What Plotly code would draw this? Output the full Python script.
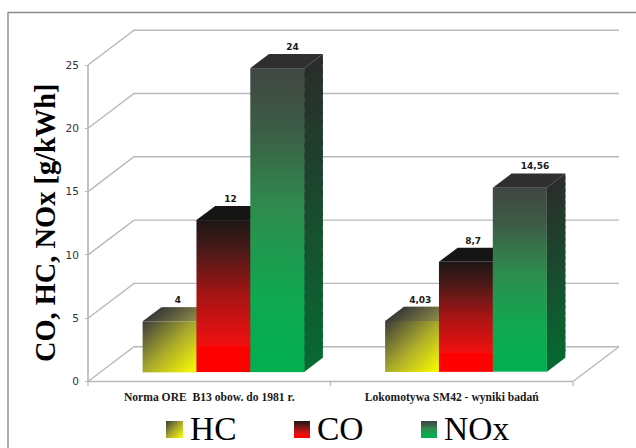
import numpy as np
import plotly.graph_objects as go

# ---- data ----
categories = ["Norma ORE  B13 obow. do 1981 r.", "Lokomotywa SM42 - wyniki badań"]
hc_values = [4, 4.03]
co_values = [12, 8.7]
nox_values = [24, 14.56]
series_names = ["HC", "CO", "NOx"]
y_ticks = [0, 5, 10, 15, 20, 25]

# ---- styling / layout ----
W, H = 636, 448
X0_PX, Y0_PX = 88.0, 381.5      # front-left floor corner
PX_U, PX_V = 242.5, 12.66       # pixels per category, pixels per value unit
DEPTH_X, DEPTH_Y = 46.0, 34.8   # oblique wall depth, pixels
Z_FRONT, Z_BACK = 0.273, 0.68   # bar front/back planes within the depth
BAR_W, BAR_START = 0.222, 0.1735
GRID = "#b8b8b8"
LABEL_SHIFT_PX = [-10.5, -11.5, -3.5]

HC_SCALE = [[0, "#ffff00"], [0.5, "#a8a82c"], [1, "#3c3c3c"]]
CO_SCALE = [[0, "#ff0000"], [0.17, "#ff0000"], [0.18, "#f01010"], [0.5, "#a81414"], [0.8, "#4a1a18"], [1, "#1e1616"]]
NOX_SCALE = [[0, "#00b050"], [0.25, "#10a850"], [0.55, "#2f8a4e"], [0.8, "#3c5c46"], [1, "#414642"]]
SCALES = [HC_SCALE, CO_SCALE, NOX_SCALE]
TOP_COL = ["#3c3c38", "#151515", "#2f2f2f"]
SIDE_TOP = ["#2a2a1a", "#1a0a0a", "#2b2d2b"]
SIDE_BOT = ["#a0a000", "#a00000", "#076a33"]


def ux(px):
    return (px - X0_PX) / PX_U


def vy(px):
    return (Y0_PX - px) / PX_V


def proj(u, v, z):
    return u + z * DEPTH_X / PX_U, v + z * DEPTH_Y / PX_V


def poly(pts, color):
    d = "M" + " L".join(f"{a:.5f},{b:.5f}" for a, b in pts) + " Z"
    return dict(type="path", path=d, xref="x", yref="y", layer="below",
                fillcolor=color, line=dict(width=0))


def mix(c1, c2, t):
    a = [int(c1[i:i + 2], 16) for i in (1, 3, 5)]
    b = [int(c2[i:i + 2], 16) for i in (1, 3, 5)]
    return "#" + "".join(f"{round(p + (q - p) * t):02x}" for p, q in zip(a, b))


shapes = []
# frame of the page (left and top only)
shapes.append(dict(type="path", xref="paper", yref="paper", layer="below",
                   path=f"M{8/W},0 L{8/W},{1-12.5/H} L1,{1-12.5/H}",
                   line=dict(color="#8c8c8c", width=1.4)))
# walls and grid
for t in y_ticks:
    a = proj(0, t, 0); b = proj(0, t, 1); c = proj(2, t, 1)
    shapes.append(dict(type="path", xref="x", yref="y", layer="below",
                       path=f"M{a[0]},{a[1]} L{b[0]},{b[1]} L{c[0]},{c[1]}",
                       line=dict(color=GRID, width=1.4)))
e = proj(2, 0, 0); f = proj(2, 0, 1)
shapes.append(dict(type="line", xref="x", yref="y", layer="below", x0=e[0], y0=e[1], x1=f[0], y1=f[1],
                   line=dict(color=GRID, width=1.4)))
shapes.append(dict(type="line", xref="x", yref="y", layer="below", x0=0, y0=0, x1=2, y1=0,
                   line=dict(color=GRID, width=1.7)))
shapes.append(dict(type="line", xref="x", yref="y", layer="below", x0=0, y0=0, x1=0, y1=25,
                   line=dict(color=GRID, width=1.7)))
for u in (0, 1, 2):
    shapes.append(dict(type="line", xref="x", yref="y", layer="below", x0=u, y0=0, x1=u, y1=-0.35,
                       line=dict(color=GRID, width=1.2)))

fig = go.Figure()
all_values = [hc_values, co_values, nox_values]
base_v = Z_FRONT * DEPTH_Y / PX_V
dx_f = Z_FRONT * DEPTH_X / PX_U

label_x, label_y, label_text = [], [], []
for s, vals in enumerate(all_values):
    lefts = [i + BAR_START + s * BAR_W for i in range(len(vals))]
    # invisible bars carry the values
    fig.add_trace(go.Bar(x=[l + dx_f + BAR_W / 2 for l in lefts], y=vals, base=base_v, width=BAR_W,
                         name=series_names[s], marker=dict(color="rgba(0,0,0,0)", line=dict(width=0)),
                         showlegend=False))
    for i, v in enumerate(vals):
        l = lefts[i]
        r = l + BAR_W
        # side face, vertical gradient; each slice overlaps the next to hide seams
        n = 30
        for k in range(n):
            v0, v1 = v * k / n, min(v, v * (k + 1.6) / n)
            col = mix(SIDE_BOT[s], SIDE_TOP[s], (k + 0.5) / n)
            shapes.append(poly([proj(r, v0, Z_FRONT), proj(r, v1, Z_FRONT),
                                proj(r, v1, Z_BACK), proj(r, v0, Z_BACK)], col))
        # top face
        if s == 0:
            m = 20
            for k in range(m):
                x0, x1 = l + BAR_W * k / m, min(r, l + BAR_W * (k + 1.6) / m)
                col = mix("#3a3a38", "#8f8f48", (k + 0.5) / m)
                shapes.append(poly([proj(x0, v, Z_FRONT), proj(x1, v, Z_FRONT),
                                    proj(x1, v, Z_BACK), proj(x0, v, Z_BACK)], col))
        else:
            shapes.append(poly([proj(l, v, Z_FRONT), proj(r, v, Z_FRONT),
                                proj(r, v, Z_BACK), proj(l, v, Z_BACK)], TOP_COL[s]))
        # front face, gradient
        rows, cols = 64, (40 if s == 0 else 1)
        xe = np.linspace(l + dx_f, r + dx_f, cols + 1)
        ye = np.linspace(base_v, base_v + v, rows + 1)
        fy = (np.arange(rows) + 0.5) / rows
        fx = (np.arange(cols) + 0.5) / cols
        if s == 0:
            z = (fy[:, None] + (1 - fx[None, :])) / 2
        else:
            z = np.repeat(fy[:, None], cols, axis=1)
        fig.add_trace(go.Heatmap(x=xe, y=ye, z=z, zmin=0, zmax=1, colorscale=SCALES[s], showscale=False,
                                 hoverinfo="skip", name=series_names[s]))
        p = proj(l + BAR_W / 2, v, Z_BACK)
        label_x.append(p[0] + LABEL_SHIFT_PX[s] / PX_U)
        label_y.append(p[1] + 1.8 / PX_V)
        label_text.append(str(v).replace(".", ","))

fig.add_trace(go.Scatter(x=label_x, y=label_y, text=label_text, mode="text", textposition="top center",
                         textfont=dict(family="DejaVu Sans", size=9, color="#1a1a1a", weight="bold"),
                         showlegend=False, hoverinfo="skip"))

# gradient legend
LEG_KEYS = [(166, 183), (294, 310), (421, 437)]
LEG_TEXT = [188, 315, 442]
annotations = []
for s, (a, b) in enumerate(LEG_KEYS):
    n = 24
    xe = np.linspace(ux(a), ux(b), n + 1)
    ye = np.linspace(vy(438), vy(421), n + 1)
    fy = (np.arange(n) + 0.5) / n
    fx = (np.arange(n) + 0.5) / n
    z = (fy[:, None] + (1 - fx[None, :])) / 2 if s == 0 else np.repeat(fy[:, None], n, axis=1)
    fig.add_trace(go.Heatmap(x=xe, y=ye, z=z, zmin=0, zmax=1, colorscale=SCALES[s], showscale=False,
                             hoverinfo="skip", name=series_names[s]))
    annotations.append(dict(x=LEG_TEXT[s] / W, y=1 - 428 / H, xref="paper", yref="paper", text=series_names[s],
                            showarrow=False, xanchor="left", yanchor="middle",
                            font=dict(family="Liberation Serif", size=33.5, color="#000000")))

annotations.append(dict(x=45 / W, y=1 - 223 / H, xref="paper", yref="paper", text="<b>CO, HC, NOx [g/kWh]</b>",
                        textangle=-90, showarrow=False, xanchor="center", yanchor="middle",
                        font=dict(family="Liberation Serif", size=28.4, color="#000000")))

fig.update_layout(
    width=W, height=H, autosize=False,
    margin=dict(l=0, r=0, t=0, b=0),
    paper_bgcolor="white", plot_bgcolor="white",
    barmode="overlay",
    showlegend=False,
    shapes=shapes, annotations=annotations,
    xaxis=dict(range=[ux(0), ux(W)], domain=[0, 1], anchor="free", position=1 - Y0_PX / H,
               showgrid=False, zeroline=False, showline=False,
               tickmode="array", tickvals=[0.5, 1.5], ticktext=[f"<b>{c}</b>" for c in categories],
               ticklen=0, ticklabelstandoff=7, tickangle=0,
               tickfont=dict(family="Liberation Serif", size=11.6, color="#1a1a1a")),
    yaxis=dict(range=[vy(H), vy(0)], domain=[0, 1], anchor="free", position=X0_PX / W,
               showgrid=False, zeroline=False, showline=False,
               tickmode="array", tickvals=y_ticks, ticktext=[str(t) for t in y_ticks],
               ticks="outside", ticklen=3, tickcolor=GRID, ticklabelstandoff=4,
               tickfont=dict(family="DejaVu Sans", size=10.5, color="#333340")),
)
fig.write_html("out.html", config=dict(displayModeBar=False),
               post_script="document.body.style.margin='0';document.body.style.overflow='hidden';")
